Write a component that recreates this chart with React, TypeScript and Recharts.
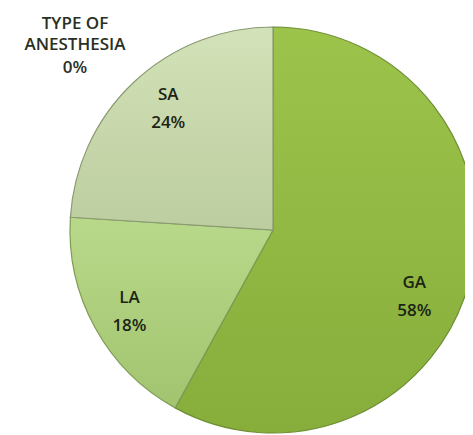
import { PieChart, Pie, Cell } from 'recharts';

const categories = ['GA', 'LA', 'SA', 'TYPE OF ANESTHESIA'];
const shares = [58, 18, 24, 0];

const fills = ['url(#gaFill)', 'url(#laFill)', 'url(#saFill)', '#c8d8ad'];
const strokes = ['#6f8f34', '#7f9a55', '#8a9a72', '#8a9a72'];

// small nudges so labels sit where the original put them
const nudges: Record<string, [number, number]> = {
  GA: [-14, 32],
  LA: [-3, 10],
  SA: [5, 1],
};

const data = categories.map((name, i) => ({ name, value: shares[i] }));

const RADIAN = Math.PI / 180;

function renderLabel(props: any) {
  const { cx, cy, midAngle, outerRadius, name, value } = props;
  const total = shares.reduce((a, b) => a + b, 0);
  const pct = Math.round((value / total) * 100);
  const textStyle = { fontFamily: 'Open Sans, sans-serif', fontSize: 17, fill: '#1c2414' };

  if (value === 0) {
    const x = cx - 198;
    const y = cy - 201;
    const words = name.split(' ');
    const lines = [words.slice(0, 2).join(' '), words.slice(2).join(' '), `${pct}%`];
    return (
      <text x={x} y={y} textAnchor="middle" style={{ ...textStyle, fontSize: 17, fill: '#2a2f24' }} fontWeight={600}>
        {lines.map((l, i) => (
          <tspan key={i} x={x} dy={i === 0 ? 0 : (i === 2 ? 23 : 21)}>{l}</tspan>
        ))}
      </text>
    );
  }

  const r = outerRadius * 0.79;
  const [nx, ny] = nudges[name] || [0, 0];
  const x = cx + r * Math.cos(-midAngle * RADIAN) + nx;
  const y = cy + r * Math.sin(-midAngle * RADIAN) + ny;
  return (
    <text x={x} y={y - 14} textAnchor="middle" style={textStyle} fontWeight={600}>
      <tspan x={x} dy={0}>{name}</tspan>
      <tspan x={x} dy={28}>{`${pct}%`}</tspan>
    </text>
  );
}

export default function App() {
  return (
    <div style={{ width: 465, height: 427, background: '#fff' }}>
      <PieChart width={465} height={427}>
        <defs>
          <linearGradient id="gaFill" x1="0" y1="0" x2="0" y2="1">
            <stop offset="0%" stopColor="#9cc44b" />
            <stop offset="100%" stopColor="#87ad3b" />
          </linearGradient>
          <linearGradient id="laFill" x1="0" y1="0" x2="0" y2="1">
            <stop offset="0%" stopColor="#b8d98a" />
            <stop offset="100%" stopColor="#a2c46f" />
          </linearGradient>
          <linearGradient id="saFill" x1="0" y1="0" x2="0" y2="1">
            <stop offset="0%" stopColor="#d3e2b8" />
            <stop offset="100%" stopColor="#bccd9f" />
          </linearGradient>
        </defs>
        <Pie
          data={data}
          dataKey="value"
          nameKey="name"
          cx={260}
          cy={217}
          outerRadius={203}
          startAngle={90}
          endAngle={-270}
          label={renderLabel}
          labelLine={false}
          isAnimationActive={false}
        >
          {data.map((d, i) => (
            <Cell key={d.name} fill={fills[i]} stroke={strokes[i]} strokeWidth={1.2} />
          ))}
        </Pie>
      </PieChart>
    </div>
  );
}
